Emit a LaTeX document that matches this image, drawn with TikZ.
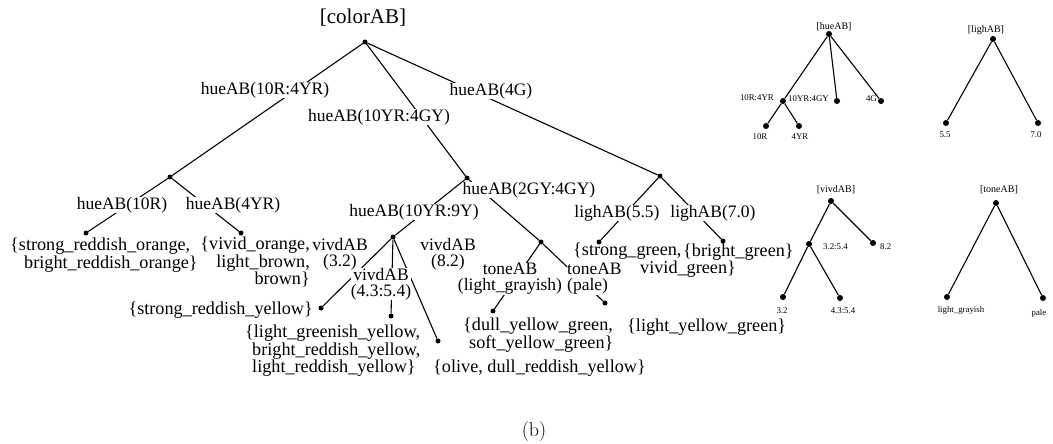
\documentclass[tikz,border=0pt]{standalone}
\usepackage{fontspec}
\usepackage{tikz}
\newfontfamily\tnr{Liberation Serif}
\tikzstyle{dot} = [circle, fill=black, inner sep=0pt, minimum size=5pt]
\tikzstyle{sdot} = [circle, fill=black, inner sep=0pt, minimum size=6pt]
\tikzstyle{edge} = [line width=1.1pt]
\tikzstyle{lab} = [fill=white, inner sep=0.5pt, font=\tnr\fontsize{17.5}{16}\selectfont, align=center]
\tikzstyle{flt} = [inner sep=0pt, font=\tnr\fontsize{17.5}{16}\selectfont, align=center]
\tikzstyle{leaf} = [inner sep=0pt, font=\tnr\fontsize{18.2}{16}\selectfont, align=left]
\tikzstyle{slab} = [inner sep=0pt, font=\tnr\fontsize{8.8}{9}\selectfont]
\tikzstyle{shead} = [inner sep=0pt, font=\tnr\fontsize{10}{11}\selectfont]

\begin{document}
\begin{tikzpicture}[x=1pt, y=-1pt]
		\useasboundingbox (0,0) rectangle (1053,444);
		% main tree
		\node (root) [dot] at (365,42) {};
		\node (n10r4yr) [dot] at (170,177) {};
		\node (n10yr4gy) [dot] at (467,178) {};
		\node (n4g) [dot] at (660,176) {};
		\node (n10r) [dot] at (86,233) {};
		\node (n4yr) [dot] at (241,233) {};
		\node (n10yr9y) [dot] at (393,237) {};
		\node (n2gy4gy) [dot] at (541,242) {};
		\node (nv32) [dot] at (321,308) {};
		\node (nv4354) [dot] at (391,316) {};
		\node (nv82) [dot] at (438,341) {};
		\node (ngray) [dot] at (493,311) {};
		\node (npale) [dot] at (605,303) {};
		\node (nl55) [dot] at (599,242) {};
		\node (nl70) [dot] at (723,241) {};
		\draw [edge] (root) -- (n10r4yr);
		\draw [edge] (root) -- (n10yr4gy);
		\draw [edge] (root) -- (n4g);
		\draw [edge] (n10r4yr) -- (n10r);
		\draw [edge] (n10r4yr) -- (n4yr);
		\draw [edge] (n10yr4gy) -- (n10yr9y);
		\draw [edge] (n10yr4gy) -- (n2gy4gy);
		\draw [edge] (n10yr9y) -- (nv32);
		\draw [edge] (n10yr9y) -- (nv4354);
		\draw [edge] (n10yr9y) -- (nv82);
		\draw [edge] (n2gy4gy) -- (ngray);
		\draw [edge] (n2gy4gy) -- (npale);
		\draw [edge] (n4g) -- (nl55);
		\draw [edge] (n4g) -- (nl70);
		\node (colorlab) [flt, font=\tnr\fontsize{21}{22}\selectfont] at (363,18) {[colorAB]};
		\node (lab10r4yr) [lab] at (265,90) {hueAB(10R:4YR)};
		\node (lab10yr4gy) [lab] at (379,117) {hueAB(10YR:4GY)};
		\node (lab4g) [lab] at (491,91) {hueAB(4G)};
		\node (lab10r) [lab] at (122,205) {hueAB(10R)};
		\node (lab4yr) [lab] at (233,205) {hueAB(4YR)};
		\node (lab10yr9y) [lab] at (414,212) {hueAB(10YR:9Y)};
		\node (lab2gy4gy) [lab] at (529,190) {hueAB(2GY:4GY)};
		\node (labv4354) [lab, inner sep=0pt] at (381,284) {vivdAB\\(4.3:5.4)};
		\node (labgray) [lab, inner sep=0pt] at (510,279) {toneAB\\(light\_grayish)};
		\node (labpale) [lab, inner sep=0pt, anchor=west, align=left] at (567,279) {toneAB\\(pale)};
		\node (labl55) [lab] at (617,213) {lighAB(5.5)};
		\node (labl70) [lab] at (713,213) {lighAB(7.0)};
		\node (labv32) [flt] at (340,254) {vivdAB\\(3.2)};
		\node (labv82) [flt] at (448,254) {vivdAB\\(8.2)};
		\node (set10r) [leaf, anchor=west] at (10,255) {\{strong\_reddish\_orange,\\\hspace*{14pt}bright\_reddish\_orange\}};
		\node (set4yr) [leaf, anchor=east, align=right] at (310,262) {\{vivid\_orange,\\light\_brown,\\brown\}};
		\node (setv32) [leaf, anchor=east] at (313,310) {\{strong\_reddish\_yellow\}};
		\node (setv4354) [leaf, anchor=west] at (245,351) {\{light\_greenish\_yellow,\\\hspace*{7pt}bright\_reddish\_yellow,\\\hspace*{7pt}light\_reddish\_yellow\}};
		\node (setv82) [leaf, anchor=west] at (433,368) {\{olive, dull\_reddish\_yellow\}};
		\node (setgray) [leaf, anchor=west] at (463,335) {\{dull\_yellow\_green,\\\hspace*{6pt}soft\_yellow\_green\}};
		\node (setpale) [leaf, anchor=west] at (627,327) {\{light\_yellow\_green\}};
		\node (setl55) [leaf, anchor=west] at (573,260) {\{strong\_green,\\\hspace*{67pt}vivid\_green\}};
		\node (setl70) [leaf, anchor=west] at (683,252) {\{bright\_green\}};
		% hueAB
		\node (hroot) [sdot] at (829,34) {};
		\node (h10r4yr) [sdot] at (783,101) {};
		\node (h10yr4gy) [sdot] at (837,101) {};
		\node (h4g) [sdot] at (881,101) {};
		\node (h10r) [sdot] at (766,126) {};
		\node (h4yr) [sdot] at (799,126) {};
		\draw [edge] (hroot) -- (h10r4yr);
		\draw [edge] (hroot) -- (h10yr4gy);
		\draw [edge] (hroot) -- (h4g);
		\draw [edge] (h10r4yr) -- (h10r);
		\draw [edge] (h10r4yr) -- (h4yr);
		\node (hhead) [shead] at (834,27) {[hueAB]};
		\node (th10r4yr) [slab, anchor=east] at (774,98) {10R:4YR};
		\node (th10yr4gy) [slab, anchor=east] at (829,99) {10YR:4GY};
		\node (th4g) [slab, anchor=east] at (877,99) {4G};
		\node (th10r) [slab] at (760,137) {10R};
		\node (th4yr) [slab] at (800,137) {4YR};
		% lighAB
		\node (lroot) [sdot] at (993,39) {};
		\node (l55) [sdot] at (946,123) {};
		\node (l70) [sdot] at (1038,123) {};
		\draw [edge] (lroot) -- (l55);
		\draw [edge] (lroot) -- (l70);
		\node (lhead) [shead] at (986,30) {[lighAB]};
		\node (tl55) [slab] at (945,135) {5.5};
		\node (tl70) [slab] at (1036,135) {7.0};
		% vivdAB
		\node (vroot) [sdot] at (831,201) {};
		\node (v3254) [sdot] at (809,244) {};
		\node (v82) [sdot] at (873,243) {};
		\node (v32) [sdot] at (783,297) {};
		\node (v4354) [sdot] at (840,298) {};
		\draw [edge] (vroot) -- (v3254);
		\draw [edge] (vroot) -- (v82);
		\draw [edge] (v3254) -- (v32);
		\draw [edge] (v3254) -- (v4354);
		\node (vhead) [shead] at (836,190) {[vivdAB]};
		\node (tv3254) [slab, anchor=west] at (823,247) {3.2:5.4};
		\node (tv82) [slab, anchor=west] at (880,247) {8.2};
		\node (tv32) [slab] at (782,311) {3.2};
		\node (tv4354) [slab] at (843,311) {4.3:5.4};
		% toneAB
		\node (troot) [sdot] at (996,203) {};
		\node (tgray) [sdot] at (947,297) {};
		\node (tpale) [sdot] at (1043,298) {};
		\draw [edge] (troot) -- (tgray);
		\draw [edge] (troot) -- (tpale);
		\node (thead) [shead] at (999,190) {[toneAB]};
		\node (ttgray) [slab] at (961,310) {light\_grayish};
		\node (ttpale) [slab] at (1039,313) {pale};
		\node (caption) [font=\fontsize{20}{24}\selectfont] at (534,432) {(b)};
\end{tikzpicture}
\end{document}
